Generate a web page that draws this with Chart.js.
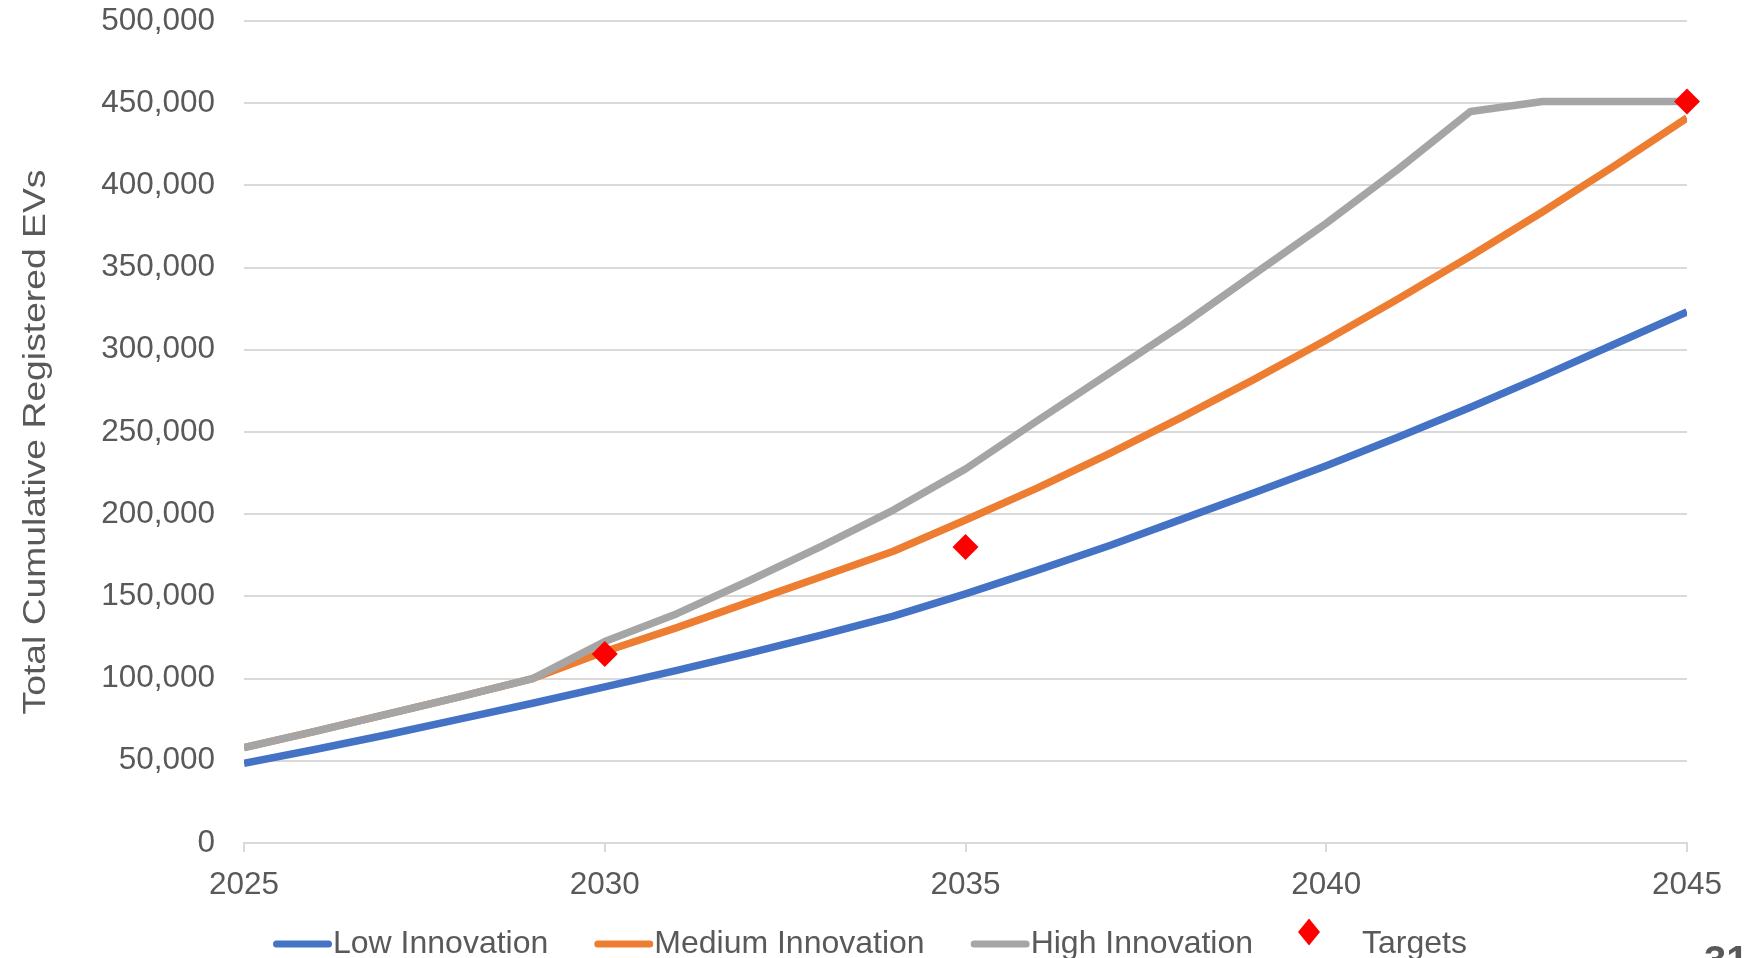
<!DOCTYPE html>
<html>
<head>
<meta charset="utf-8">
<script src="https://cdn.jsdelivr.net/npm/chart.js@4.4.1/dist/chart.umd.min.js"></script>
<style>
  html, body { margin: 0; padding: 0; background: #ffffff; }
  canvas { display: block; }
</style>
</head>
<body>
<canvas id="c" width="1747" height="958"></canvas>
<script>
// Projected cumulative EV registrations by scenario
const years = [2025, 2026, 2027, 2028, 2029, 2030, 2031, 2032, 2033, 2034, 2035,
               2036, 2037, 2038, 2039, 2040, 2041, 2042, 2043, 2044, 2045];
const lowInnovation = [48500, 57000, 66000, 75500, 85000, 95000, 105000, 115500, 126500, 138000, 151500,
                       166000, 181000, 197000, 213000, 229500, 247000, 265000, 284000, 303500, 323000];
const mediumInnovation = [58000, 68000, 78500, 89000, 100000, 116500, 131000, 146500, 162000, 177500, 196500,
                          216000, 237000, 259000, 282000, 306000, 331000, 357000, 384000, 412000, 441000];
const highInnovation = [58000, 68000, 78500, 89000, 100000, 122500, 139500, 159500, 180500, 202500, 227500,
                        257000, 286000, 315000, 346000, 377000, 410000, 445000, 451000, 451000, 451000];
const targetYears = [2030, 2035, 2045];
const targetValues = [115000, 180000, 451000];

const seriesLabels = ['Low Innovation', 'Medium Innovation', 'High Innovation', 'Targets'];
const xTickYears = [2025, 2030, 2035, 2040, 2045];
const yAxisTitle = 'Total Cumulative Registered EVs';
const pageNumber = '31';

const FONT = "'Liberation Sans', Arial, sans-serif";
const TEXT = '#595959';
const GRID = '#D9D9D9';

const toPoints = (xs, ys) => xs.map((x, i) => ({ x: x, y: ys[i] }));

// Axis title, legend and page number drawn onto the canvas after the chart
const decorations = {
  id: 'decorations',
  afterDraw(chart) {
    const ctx = chart.ctx;
    ctx.save();

    // rotated y-axis title
    ctx.save();
    ctx.fillStyle = TEXT;
    ctx.font = '32px ' + FONT;
    ctx.translate(45, 442);
    ctx.rotate(-Math.PI / 2);
    ctx.scale(1.165, 1);
    ctx.textAlign = 'center';
    ctx.textBaseline = 'alphabetic';
    ctx.fillText(yAxisTitle, 0, 0);
    ctx.restore();

    // legend row
    ctx.font = '32px ' + FONT;
    ctx.textBaseline = 'alphabetic';
    ctx.textAlign = 'left';
    const ds = chart.data.datasets;
    const lineKey = 59, itemGap = 46, markerPre = 56, markerPost = 53;
    let x = 273;
    const lineY = 944, baseY = 953;
    ds.forEach((d, k) => {
      const tw = ctx.measureText(d.label).width;
      if (d.showLine === false) {
        const cx = x + markerPre;
        ctx.fillStyle = d.pointBackgroundColor;
        ctx.beginPath();
        ctx.moveTo(cx, 932 - 13.5);
        ctx.lineTo(cx + 11, 932);
        ctx.lineTo(cx, 932 + 13.5);
        ctx.lineTo(cx - 11, 932);
        ctx.closePath();
        ctx.fill();
        ctx.fillStyle = TEXT;
        ctx.fillText(d.label, cx + markerPost, baseY);
        x = cx + markerPost + tw;
      } else {
        if (k > 0) x += itemGap;
        ctx.strokeStyle = d.borderColor;
        ctx.lineWidth = 7;
        ctx.lineCap = 'round';
        ctx.beginPath();
        ctx.moveTo(x + 3.5, lineY);
        ctx.lineTo(x + lineKey - 3.5, lineY);
        ctx.stroke();
        ctx.fillStyle = TEXT;
        ctx.fillText(d.label, x + lineKey + 1, baseY);
        x += lineKey + 1 + tw;
      }
    });

    // page number in the corner
    ctx.fillStyle = '#595959';
    ctx.font = 'bold 40px ' + FONT;
    ctx.fillText(pageNumber, 1704, 974);

    ctx.restore();
  }
};

const lineStyle = (color) => ({
  borderColor: color,
  backgroundColor: color,
  borderWidth: 7.5,
  pointRadius: 0,
  pointHoverRadius: 0,
  tension: 0,
  fill: false,
  borderJoinStyle: 'round',
  borderCapStyle: 'butt'
});

new Chart(document.getElementById('c'), {
  type: 'line',
  data: {
    datasets: [
      Object.assign({ label: seriesLabels[0], data: toPoints(years, lowInnovation), order: 3 }, lineStyle('#4472C4')),
      Object.assign({ label: seriesLabels[1], data: toPoints(years, mediumInnovation), order: 2 }, lineStyle('#ED7D31')),
      Object.assign({ label: seriesLabels[2], data: toPoints(years, highInnovation), order: 1 }, lineStyle('#A5A5A5')),
      {
        label: seriesLabels[3],
        data: toPoints(targetYears, targetValues),
        showLine: false,
        clip: false,
        pointStyle: 'rectRot',
        pointRadius: 13,
        pointBackgroundColor: '#FF0000',
        pointBorderColor: '#FF0000',
        pointBorderWidth: 0,
        borderColor: '#FF0000',
        backgroundColor: '#FF0000',
        order: 0
      }
    ]
  },
  options: {
    responsive: false,
    animation: false,
    events: [],
    layout: { padding: { left: 0, right: 60, top: 21, bottom: 0 } },
    plugins: {
      legend: { display: false },
      tooltip: { enabled: false },
      title: { display: false }
    },
    scales: {
      x: {
        type: 'linear',
        min: 2025,
        max: 2045,
        afterBuildTicks: (scale) => { scale.ticks = xTickYears.map(v => ({ value: v })); },
        afterFit: (scale) => { scale.height = 115; scale.paddingLeft = 0; scale.paddingRight = 0; },
        grid: { drawOnChartArea: false, drawTicks: true, tickLength: 9, color: GRID, lineWidth: 2 },
        border: { display: true, color: GRID, width: 2 },
        ticks: {
          padding: 14,
          color: TEXT,
          font: { family: FONT, size: 31.5 },
          maxRotation: 0,
          autoSkip: false,
          callback: (v) => String(v)
        }
      },
      y: {
        min: 0,
        max: 500000,
        afterFit: (scale) => { scale.width = 244; scale.paddingTop = 0; scale.paddingBottom = 0; },
        grid: { color: GRID, lineWidth: 2, drawTicks: false },
        border: { display: false },
        ticks: {
          stepSize: 50000,
          padding: 29,
          color: TEXT,
          font: { family: FONT, size: 31.5 },
          callback: (v) => v.toLocaleString('en-US')
        }
      }
    }
  },
  plugins: [decorations]
});
</script>
</body>
</html>
